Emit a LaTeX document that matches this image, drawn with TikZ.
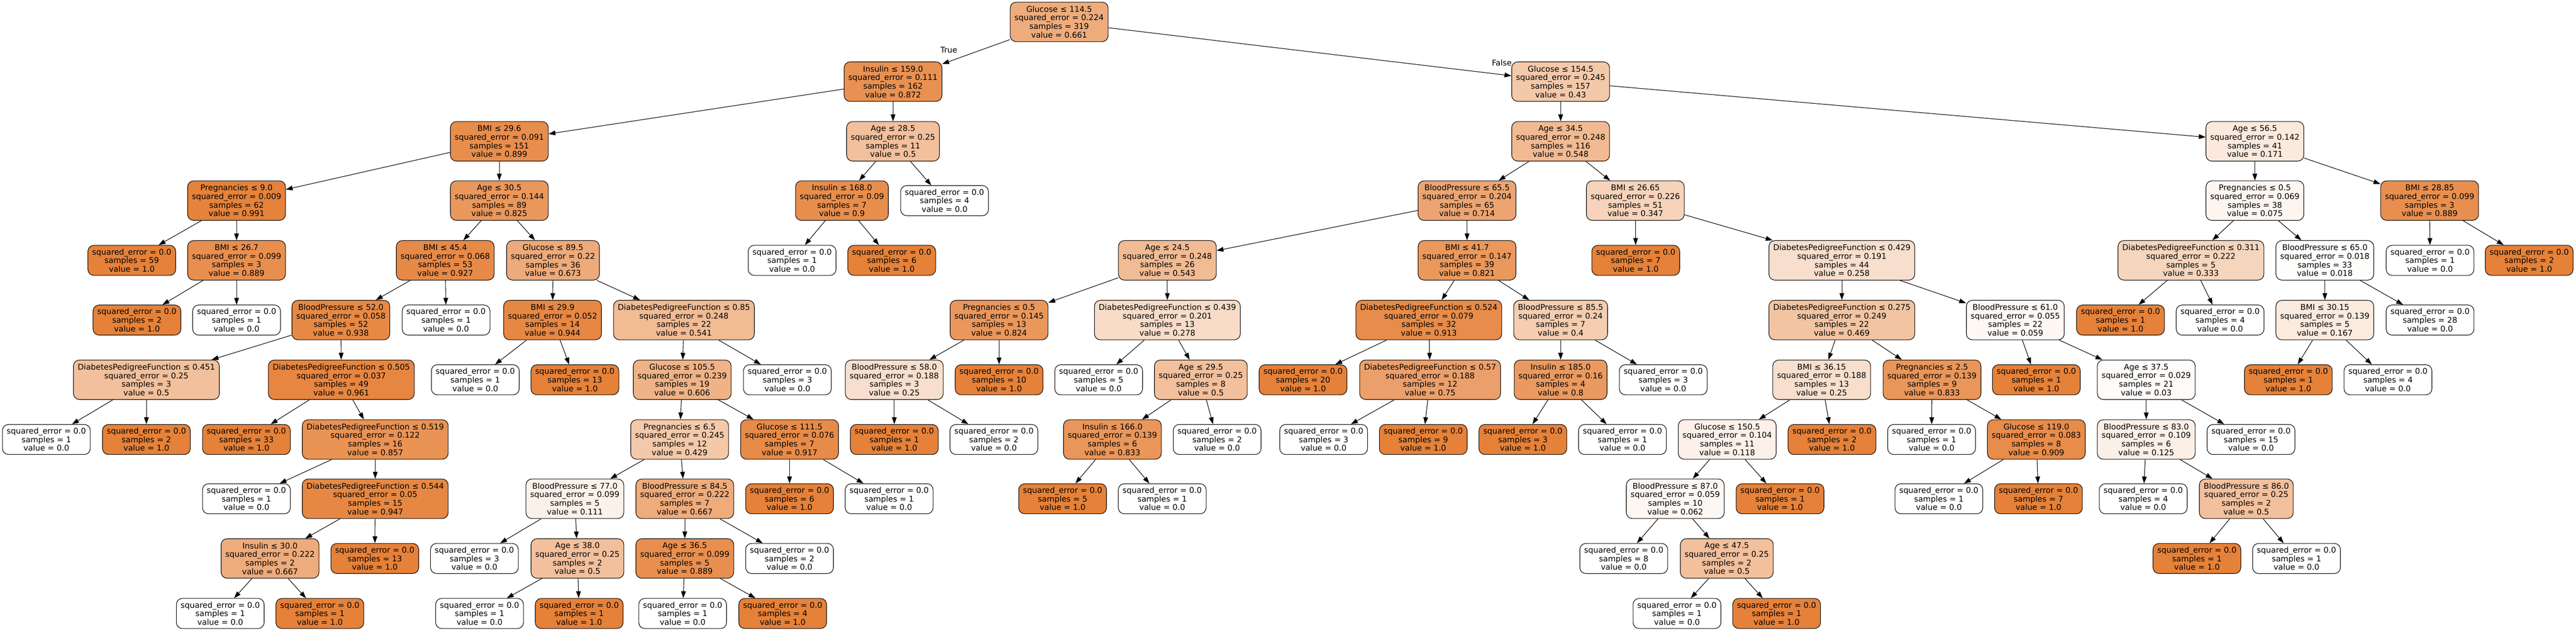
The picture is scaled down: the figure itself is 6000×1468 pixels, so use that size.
\documentclass[tikz,border=0pt]{standalone}
\usepackage{fontspec}
\usetikzlibrary{arrows.meta}
\newfontfamily\treefont{DejaVu Sans}
\definecolor{tone}{RGB}{229,129,57}
% split node: name, x, y, test, error, samples, value, fill percent
\newcommand\splitbox[8]{%
  \node[splitnode, fill=tone!#8!white] (#1) at (#2,#3)
    {#4\\squared\_error = #5\\samples = #6\\value = #7};}
% leaf node: name, x, y, samples, value, fill percent
\newcommand\leafbox[6]{%
  \node[leafnode, fill=tone!#6!white] (#1) at (#2,#3)
    {squared\_error = 0.0\\samples = #4\\value = #5};}
\tikzset{
  splitnode/.style={draw, rounded corners=14pt, align=center, inner xsep=10pt,
    minimum height=92pt, line width=1.3pt, font={\treefont\fontsize{18.4}{20}\selectfont}},
  leafnode/.style={splitnode, minimum height=70pt},
  branch/.style={-{Triangle[length=16pt,width=11pt]}, line width=1.3pt}
}
\begin{document}
\begin{tikzpicture}[x=1pt,y=-1pt]
          \path[fill=white] (0,0) rectangle (6000,1468);
          % level 0 - 1
          \splitbox{n0}{2467}{51}{Glucose ≤ 114.5}{0.224}{319}{0.661}{66.1}
          \splitbox{n1}{2080}{190}{Insulin ≤ 159.0}{0.111}{162}{0.872}{87.2}
          \splitbox{n50}{3635}{190}{Glucose ≤ 154.5}{0.245}{157}{0.43}{43}
          \node[font={\treefont\fontsize{18.4}{20}\selectfont}] (truelabel) at (2210,116) {True};
          \node[font={\treefont\fontsize{18.4}{20}\selectfont}] (falselabel) at (3498,146) {False};
          % left part
          \splitbox{n2}{1163}{329}{BMI ≤ 29.6}{0.091}{151}{0.899}{89.9}
          \splitbox{n3}{551}{467}{Pregnancies ≤ 9.0}{0.009}{62}{0.991}{99.1}
          \leafbox{n4}{307}{606}{59}{1.0}{100}
          \splitbox{n5}{551}{606}{BMI ≤ 26.7}{0.099}{3}{0.889}{88.9}
          \leafbox{n6}{319}{745}{2}{1.0}{100}
          \leafbox{n7}{551}{745}{1}{0.0}{0}
          \splitbox{n8}{1163}{467}{Age ≤ 30.5}{0.144}{89}{0.825}{82.5}
          \splitbox{n9}{1037}{606}{BMI ≤ 45.4}{0.068}{53}{0.927}{92.7}
          \splitbox{n10}{794}{745}{BloodPressure ≤ 52.0}{0.058}{52}{0.938}{93.8}
          \splitbox{n11}{341}{884}{DiabetesPedigreeFunction ≤ 0.451}{0.25}{3}{0.5}{50}
          \leafbox{n12}{108}{1023}{1}{0.0}{0}
          \leafbox{n13}{341}{1023}{2}{1.0}{100}
          \splitbox{n14}{795}{884}{DiabetesPedigreeFunction ≤ 0.505}{0.037}{49}{0.961}{96.1}
          \leafbox{n15}{574}{1023}{33}{1.0}{100}
          \splitbox{n16}{874}{1023}{DiabetesPedigreeFunction ≤ 0.519}{0.122}{16}{0.857}{85.7}
          \leafbox{n17}{574}{1161}{1}{0.0}{0}
          \splitbox{n18}{874}{1161}{DiabetesPedigreeFunction ≤ 0.544}{0.05}{15}{0.947}{94.7}
          \splitbox{n19}{629}{1300}{Insulin ≤ 30.0}{0.222}{2}{0.667}{66.7}
          \leafbox{n20}{513}{1428}{1}{0.0}{0}
          \leafbox{n21}{745}{1428}{1}{1.0}{100}
          \leafbox{n22}{873}{1300}{13}{1.0}{100}
          \leafbox{n23}{1039}{745}{1}{0.0}{0}
          \splitbox{n24}{1288}{606}{Glucose ≤ 89.5}{0.22}{36}{0.673}{67.3}
          \splitbox{n25}{1287}{745}{BMI ≤ 29.9}{0.052}{14}{0.944}{94.4}
          \leafbox{n26}{1107}{884}{1}{0.0}{0}
          \leafbox{n27}{1339}{884}{13}{1.0}{100}
          \splitbox{n28}{1593}{745}{DiabetesPedigreeFunction ≤ 0.85}{0.248}{22}{0.541}{54.1}
          \splitbox{n29}{1589}{884}{Glucose ≤ 105.5}{0.239}{19}{0.606}{60.6}
          \splitbox{n30}{1583}{1023}{Pregnancies ≤ 6.5}{0.245}{12}{0.429}{42.9}
          \splitbox{n31}{1339}{1161}{BloodPressure ≤ 77.0}{0.099}{5}{0.111}{11.1}
          \leafbox{n32}{1105}{1300}{3}{0.0}{0}
          \splitbox{n33}{1345}{1300}{Age ≤ 38.0}{0.25}{2}{0.5}{50}
          \leafbox{n34}{1117}{1428}{1}{0.0}{0}
          \leafbox{n35}{1349}{1428}{1}{1.0}{100}
          \splitbox{n36}{1595}{1161}{BloodPressure ≤ 84.5}{0.222}{7}{0.667}{66.7}
          \splitbox{n37}{1595}{1300}{Age ≤ 36.5}{0.099}{5}{0.889}{88.9}
          \leafbox{n38}{1590}{1428}{1}{0.0}{0}
          \leafbox{n39}{1823}{1428}{4}{1.0}{100}
          \leafbox{n40}{1839}{1300}{2}{0.0}{0}
          \splitbox{n41}{1839}{1023}{Glucose ≤ 111.5}{0.076}{7}{0.917}{91.7}
          \leafbox{n42}{1839}{1161}{6}{1.0}{100}
          \leafbox{n43}{2071}{1161}{1}{0.0}{0}
          \leafbox{n44}{1834}{884}{3}{0.0}{0}
          \splitbox{n45}{2080}{329}{Age ≤ 28.5}{0.25}{11}{0.5}{50}
          \splitbox{n46}{1961}{467}{Insulin ≤ 168.0}{0.09}{7}{0.9}{90}
          \leafbox{n47}{1845}{606}{1}{0.0}{0}
          \leafbox{n48}{2077}{606}{6}{1.0}{100}
          \leafbox{n49}{2200}{467}{4}{0.0}{0}
          % right part
          \splitbox{n51}{3635}{329}{Age ≤ 34.5}{0.248}{116}{0.548}{54.8}
          \splitbox{n52}{3417}{467}{BloodPressure ≤ 65.5}{0.204}{65}{0.714}{71.4}
          \splitbox{n53}{2719}{606}{Age ≤ 24.5}{0.248}{26}{0.543}{54.3}
          \splitbox{n54}{2327}{745}{Pregnancies ≤ 0.5}{0.145}{13}{0.824}{82.4}
          \splitbox{n55}{2083}{884}{BloodPressure ≤ 58.0}{0.188}{3}{0.25}{25}
          \leafbox{n56}{2083}{1023}{1}{1.0}{100}
          \leafbox{n57}{2315}{1023}{2}{0.0}{0}
          \leafbox{n58}{2327}{884}{10}{1.0}{100}
          \splitbox{n59}{2719}{745}{DiabetesPedigreeFunction ≤ 0.439}{0.201}{13}{0.278}{27.8}
          \leafbox{n60}{2559}{884}{5}{0.0}{0}
          \splitbox{n61}{2797}{884}{Age ≤ 29.5}{0.25}{8}{0.5}{50}
          \splitbox{n62}{2591}{1023}{Insulin ≤ 166.0}{0.139}{6}{0.833}{83.3}
          \leafbox{n63}{2475}{1161}{5}{1.0}{100}
          \leafbox{n64}{2707}{1161}{1}{0.0}{0}
          \leafbox{n65}{2835}{1023}{2}{0.0}{0}
          \splitbox{n66}{3417}{606}{BMI ≤ 41.7}{0.147}{39}{0.821}{82.1}
          \splitbox{n67}{3328}{745}{DiabetesPedigreeFunction ≤ 0.524}{0.079}{32}{0.913}{91.3}
          \leafbox{n68}{3035}{884}{20}{1.0}{100}
          \splitbox{n69}{3331}{884}{DiabetesPedigreeFunction ≤ 0.57}{0.188}{12}{0.75}{75}
          \leafbox{n70}{3083}{1023}{3}{0.0}{0}
          \leafbox{n71}{3315}{1023}{9}{1.0}{100}
          \splitbox{n72}{3635}{745}{BloodPressure ≤ 85.5}{0.24}{7}{0.4}{40}
          \splitbox{n73}{3635}{884}{Insulin ≤ 185.0}{0.16}{4}{0.8}{80}
          \leafbox{n74}{3547}{1023}{3}{1.0}{100}
          \leafbox{n75}{3779}{1023}{1}{0.0}{0}
          \leafbox{n76}{3874}{884}{3}{0.0}{0}
          \splitbox{n77}{3809}{467}{BMI ≤ 26.65}{0.226}{51}{0.347}{34.7}
          \leafbox{n78}{3810}{606}{7}{1.0}{100}
          \splitbox{n79}{4290}{606}{DiabetesPedigreeFunction ≤ 0.429}{0.191}{44}{0.258}{25.8}
          \splitbox{n80}{4290}{745}{DiabetesPedigreeFunction ≤ 0.275}{0.249}{22}{0.469}{46.9}
          \splitbox{n81}{4243}{884}{BMI ≤ 36.15}{0.188}{13}{0.25}{25}
          \splitbox{n82}{4023}{1023}{Glucose ≤ 150.5}{0.104}{11}{0.118}{11.8}
          \splitbox{n83}{3902}{1161}{BloodPressure ≤ 87.0}{0.059}{10}{0.062}{6.2}
          \leafbox{n84}{3782}{1300}{8}{0.0}{0}
          \splitbox{n85}{4022}{1300}{Age ≤ 47.5}{0.25}{2}{0.5}{50}
          \leafbox{n86}{3906}{1428}{1}{0.0}{0}
          \leafbox{n87}{4138}{1428}{1}{1.0}{100}
          \leafbox{n88}{4146}{1161}{1}{1.0}{100}
          \leafbox{n89}{4267}{1023}{2}{1.0}{100}
          \splitbox{n90}{4500}{884}{Pregnancies ≤ 2.5}{0.139}{9}{0.833}{83.3}
          \leafbox{n91}{4499}{1023}{1}{0.0}{0}
          \splitbox{n92}{4743}{1023}{Glucose ≤ 119.0}{0.083}{8}{0.909}{90.9}
          \leafbox{n93}{4516}{1161}{1}{0.0}{0}
          \leafbox{n94}{4748}{1161}{7}{1.0}{100}
          \splitbox{n95}{4694}{745}{BloodPressure ≤ 61.0}{0.055}{22}{0.059}{5.9}
          \leafbox{n96}{4743}{884}{1}{1.0}{100}
          \splitbox{n97}{4999}{884}{Age ≤ 37.5}{0.029}{21}{0.03}{3}
          \splitbox{n98}{4999}{1023}{BloodPressure ≤ 83.0}{0.109}{6}{0.125}{12.5}
          \leafbox{n99}{4992}{1161}{4}{0.0}{0}
          \splitbox{n100}{5232}{1161}{BloodPressure ≤ 86.0}{0.25}{2}{0.5}{50}
          \leafbox{n101}{5117}{1300}{1}{1.0}{100}
          \leafbox{n102}{5349}{1300}{1}{0.0}{0}
          \leafbox{n103}{5243}{1023}{15}{0.0}{0}
          \splitbox{n104}{5252}{329}{Age ≤ 56.5}{0.142}{41}{0.171}{17.1}
          \splitbox{n105}{5252}{467}{Pregnancies ≤ 0.5}{0.069}{38}{0.075}{7.5}
          \splitbox{n106}{5103}{606}{DiabetesPedigreeFunction ≤ 0.311}{0.222}{5}{0.333}{33.3}
          \leafbox{n107}{4939}{745}{1}{1.0}{100}
          \leafbox{n108}{5171}{745}{4}{0.0}{0}
          \splitbox{n109}{5415}{606}{BloodPressure ≤ 65.0}{0.018}{33}{0.018}{1.8}
          \splitbox{n110}{5415}{745}{BMI ≤ 30.15}{0.139}{5}{0.167}{16.7}
          \leafbox{n111}{5330}{884}{1}{1.0}{100}
          \leafbox{n112}{5562}{884}{4}{0.0}{0}
          \leafbox{n113}{5660}{745}{28}{0.0}{0}
          \splitbox{n114}{5659}{467}{BMI ≤ 28.85}{0.099}{3}{0.889}{88.9}
          \leafbox{n115}{5660}{606}{1}{0.0}{0}
          \leafbox{n116}{5891}{606}{2}{1.0}{100}
          % branches
          \draw[branch] (n0) -- (n1); \draw[branch] (n0) -- (n50);
          \draw[branch] (n1) -- (n2); \draw[branch] (n1) -- (n45);
          \draw[branch] (n2) -- (n3); \draw[branch] (n2) -- (n8);
          \draw[branch] (n3) -- (n4); \draw[branch] (n3) -- (n5);
          \draw[branch] (n5) -- (n6); \draw[branch] (n5) -- (n7);
          \draw[branch] (n8) -- (n9); \draw[branch] (n8) -- (n24);
          \draw[branch] (n9) -- (n10); \draw[branch] (n9) -- (n23);
          \draw[branch] (n10) -- (n11); \draw[branch] (n10) -- (n14);
          \draw[branch] (n11) -- (n12); \draw[branch] (n11) -- (n13);
          \draw[branch] (n14) -- (n15); \draw[branch] (n14) -- (n16);
          \draw[branch] (n16) -- (n17); \draw[branch] (n16) -- (n18);
          \draw[branch] (n18) -- (n19); \draw[branch] (n18) -- (n22);
          \draw[branch] (n19) -- (n20); \draw[branch] (n19) -- (n21);
          \draw[branch] (n24) -- (n25); \draw[branch] (n24) -- (n28);
          \draw[branch] (n25) -- (n26); \draw[branch] (n25) -- (n27);
          \draw[branch] (n28) -- (n29); \draw[branch] (n28) -- (n44);
          \draw[branch] (n29) -- (n30); \draw[branch] (n29) -- (n41);
          \draw[branch] (n30) -- (n31); \draw[branch] (n30) -- (n36);
          \draw[branch] (n31) -- (n32); \draw[branch] (n31) -- (n33);
          \draw[branch] (n33) -- (n34); \draw[branch] (n33) -- (n35);
          \draw[branch] (n36) -- (n37); \draw[branch] (n36) -- (n40);
          \draw[branch] (n37) -- (n38); \draw[branch] (n37) -- (n39);
          \draw[branch] (n41) -- (n42); \draw[branch] (n41) -- (n43);
          \draw[branch] (n45) -- (n46); \draw[branch] (n45) -- (n49);
          \draw[branch] (n46) -- (n47); \draw[branch] (n46) -- (n48);
          \draw[branch] (n50) -- (n51); \draw[branch] (n50) -- (n104);
          \draw[branch] (n51) -- (n52); \draw[branch] (n51) -- (n77);
          \draw[branch] (n52) -- (n53); \draw[branch] (n52) -- (n66);
          \draw[branch] (n53) -- (n54); \draw[branch] (n53) -- (n59);
          \draw[branch] (n54) -- (n55); \draw[branch] (n54) -- (n58);
          \draw[branch] (n55) -- (n56); \draw[branch] (n55) -- (n57);
          \draw[branch] (n59) -- (n60); \draw[branch] (n59) -- (n61);
          \draw[branch] (n61) -- (n62); \draw[branch] (n61) -- (n65);
          \draw[branch] (n62) -- (n63); \draw[branch] (n62) -- (n64);
          \draw[branch] (n66) -- (n67); \draw[branch] (n66) -- (n72);
          \draw[branch] (n67) -- (n68); \draw[branch] (n67) -- (n69);
          \draw[branch] (n69) -- (n70); \draw[branch] (n69) -- (n71);
          \draw[branch] (n72) -- (n73); \draw[branch] (n72) -- (n76);
          \draw[branch] (n73) -- (n74); \draw[branch] (n73) -- (n75);
          \draw[branch] (n77) -- (n78); \draw[branch] (n77) -- (n79);
          \draw[branch] (n79) -- (n80); \draw[branch] (n79) -- (n95);
          \draw[branch] (n80) -- (n81); \draw[branch] (n80) -- (n90);
          \draw[branch] (n81) -- (n82); \draw[branch] (n81) -- (n89);
          \draw[branch] (n82) -- (n83); \draw[branch] (n82) -- (n88);
          \draw[branch] (n83) -- (n84); \draw[branch] (n83) -- (n85);
          \draw[branch] (n85) -- (n86); \draw[branch] (n85) -- (n87);
          \draw[branch] (n90) -- (n91); \draw[branch] (n90) -- (n92);
          \draw[branch] (n92) -- (n93); \draw[branch] (n92) -- (n94);
          \draw[branch] (n95) -- (n96); \draw[branch] (n95) -- (n97);
          \draw[branch] (n97) -- (n98); \draw[branch] (n97) -- (n103);
          \draw[branch] (n98) -- (n99); \draw[branch] (n98) -- (n100);
          \draw[branch] (n100) -- (n101); \draw[branch] (n100) -- (n102);
          \draw[branch] (n104) -- (n105); \draw[branch] (n104) -- (n114);
          \draw[branch] (n105) -- (n106); \draw[branch] (n105) -- (n109);
          \draw[branch] (n106) -- (n107); \draw[branch] (n106) -- (n108);
          \draw[branch] (n109) -- (n110); \draw[branch] (n109) -- (n113);
          \draw[branch] (n110) -- (n111); \draw[branch] (n110) -- (n112);
          \draw[branch] (n114) -- (n115); \draw[branch] (n114) -- (n116);
\end{tikzpicture}
\end{document}
